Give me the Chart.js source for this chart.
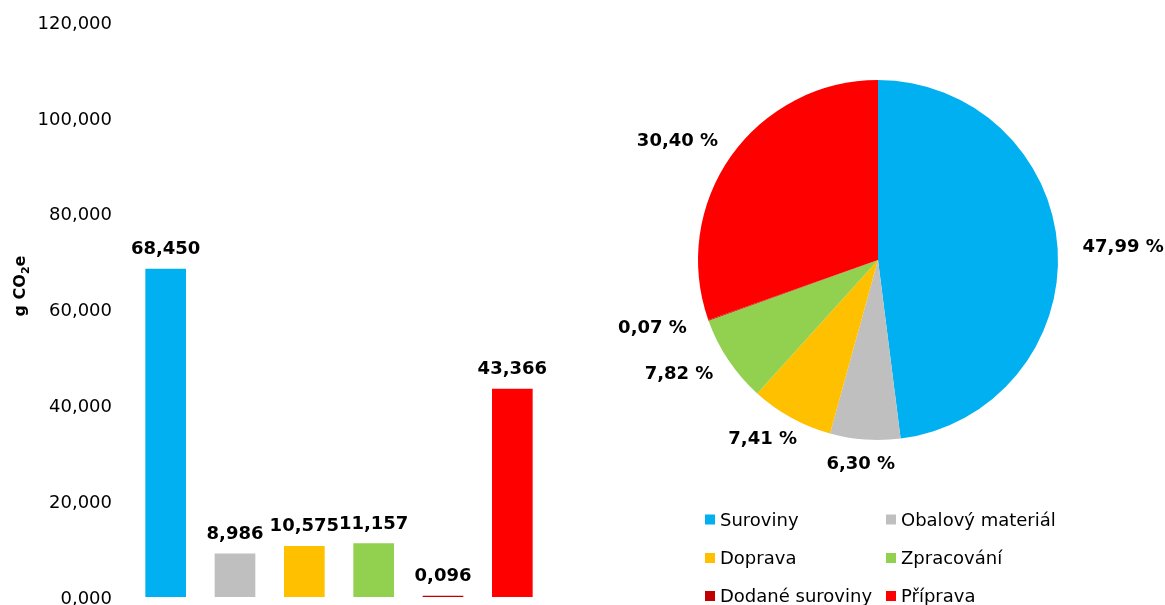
<!DOCTYPE html>
<html><head><meta charset="utf-8">
<script src="https://cdn.jsdelivr.net/npm/chart.js@4"></script>
<style>
html,body{margin:0;padding:0;background:#fff;overflow:hidden;width:1165px;height:605px;}
#bar{position:absolute;left:0;top:0;}
#pie{position:absolute;left:600px;top:0;}
</style></head><body>
<canvas id="bar" width="600" height="625"></canvas>
<canvas id="pie" width="565" height="605"></canvas>
<script>
// ---- data ----
const categories = ['Suroviny', 'Obalový materiál', 'Doprava', 'Zpracování', 'Dodané suroviny', 'Příprava'];
const values = [68.450, 8.986, 10.575, 11.157, 0.096, 43.366];
const sharePercent = [47.99, 6.30, 7.41, 7.82, 0.07, 30.40];
const colors = ['#00B0F0', '#BFBFBF', '#FFC000', '#92D050', '#C00000', '#FF0000'];
const yMin = 0, yMax = 120, yStep = 20;
const yTitleParts = ['g CO', '2', 'e'];

const FONT = "'DejaVu Sans', Verdana, sans-serif";
const fmt3 = v => v.toFixed(3).replace('.', ',');
const fmt2 = v => v.toFixed(2).replace('.', ',') + ' %';

const barLabels = {
  id: 'barLabels',
  afterDatasetsDraw(chart) {
    const ctx = chart.ctx;
    const meta = chart.getDatasetMeta(0);
    ctx.save();
    ctx.font = 'bold 18px ' + FONT;
    ctx.fillStyle = '#000';
    ctx.textAlign = 'center';
    ctx.textBaseline = 'alphabetic';
    meta.data.forEach((el, i) => {
      ctx.fillText(fmt3(values[i]), el.x, el.y - 15);
    });
    ctx.restore();
  }
};

const yTitle = {
  id: 'yTitle',
  afterDraw(chart) {
    const ctx = chart.ctx;
    ctx.save();
    ctx.translate(20, 286);
    ctx.rotate(-Math.PI / 2);
    ctx.fillStyle = '#000';
    ctx.textBaseline = 'alphabetic';
    ctx.textAlign = 'left';
    const big = 'bold 16px ' + FONT, small = 'bold 11px ' + FONT;
    ctx.font = big; const w1 = ctx.measureText(yTitleParts[0]).width;
    ctx.font = small; const w2 = ctx.measureText(yTitleParts[1]).width;
    ctx.font = big; const w3 = ctx.measureText(yTitleParts[2]).width;
    let x = -(w1 + w2 + w3) / 2;
    const base = 5;
    ctx.font = big; ctx.fillText(yTitleParts[0], x, base); x += w1;
    ctx.font = small; ctx.fillText(yTitleParts[1], x, base + 4); x += w2;
    ctx.font = big; ctx.fillText(yTitleParts[2], x, base);
    ctx.restore();
  }
};

new Chart(document.getElementById('bar'), {
  type: 'bar',
  data: { labels: categories, datasets: [{ data: values, backgroundColor: colors, barThickness: 40, minBarLength: 1, borderWidth: 0 }] },
  options: {
    responsive: false, animation: false,
    layout: { padding: { left: 0, right: 53, top: 22, bottom: 28 } },
    plugins: { legend: { display: false }, tooltip: { enabled: false } },
    scales: {
      x: { display: false },
      y: {
        min: yMin, max: yMax,
        ticks: { stepSize: yStep, padding: 19, labelOffset: 2, color: '#000', font: { family: FONT, size: 18 }, callback: v => fmt3(v) },
        grid: { display: false, drawTicks: false },
        border: { display: false },
        afterFit(s) { s.width = 131; s.paddingTop = 0; s.paddingBottom = 0; }
      }
    }
  },
  plugins: [barLabels, yTitle]
});

const pieLabels = {
  id: 'pieLabels',
  afterDatasetsDraw(chart) {
    const ctx = chart.ctx;
    const meta = chart.getDatasetMeta(0);
    ctx.save();
    ctx.font = 'bold 18px ' + FONT;
    ctx.fillStyle = '#000';
    ctx.textAlign = 'center';
    ctx.textBaseline = 'middle';
    const gap = 25;
    meta.data.forEach((arc, i) => {
      const a = (arc.startAngle + arc.endAngle) / 2;
      const dx = Math.cos(a), dy = Math.sin(a);
      const txt = fmt2(sharePercent[i]);
      const w = ctx.measureText(txt).width;
      const r = arc.outerRadius + gap;
      const cx = arc.x + dx * r + dx * w / 2;
      const cy = arc.y + dy * r;
      ctx.fillText(txt, cx, cy);
    });
    ctx.restore();
  }
};

const pieLegend = {
  id: 'pieLegend',
  afterDraw(chart) {
    const ctx = chart.ctx;
    ctx.save();
    ctx.font = '18px ' + FONT;
    ctx.fillStyle = '#000';
    ctx.textBaseline = 'alphabetic';
    ctx.textAlign = 'left';
    const colX = [105, 286], rowY = [525.5, 564, 602];
    categories.forEach((c, i) => {
      const x = colX[i % 2], y = rowY[Math.floor(i / 2)];
      ctx.fillStyle = colors[i];
      ctx.fillRect(x, y - 11, 10, 10);
      ctx.fillStyle = '#000';
      ctx.fillText(c, x + 15, y);
    });
    ctx.restore();
  }
};

new Chart(document.getElementById('pie'), {
  type: 'pie',
  data: { labels: categories, datasets: [{ data: sharePercent, backgroundColor: colors, borderWidth: 0 }] },
  options: {
    responsive: false, animation: false,
    layout: { padding: { left: 98, right: 107, top: 80, bottom: 165 } },
    plugins: { legend: { display: false }, tooltip: { enabled: false } }
  },
  plugins: [pieLabels, pieLegend]
});
</script>
</body></html>
